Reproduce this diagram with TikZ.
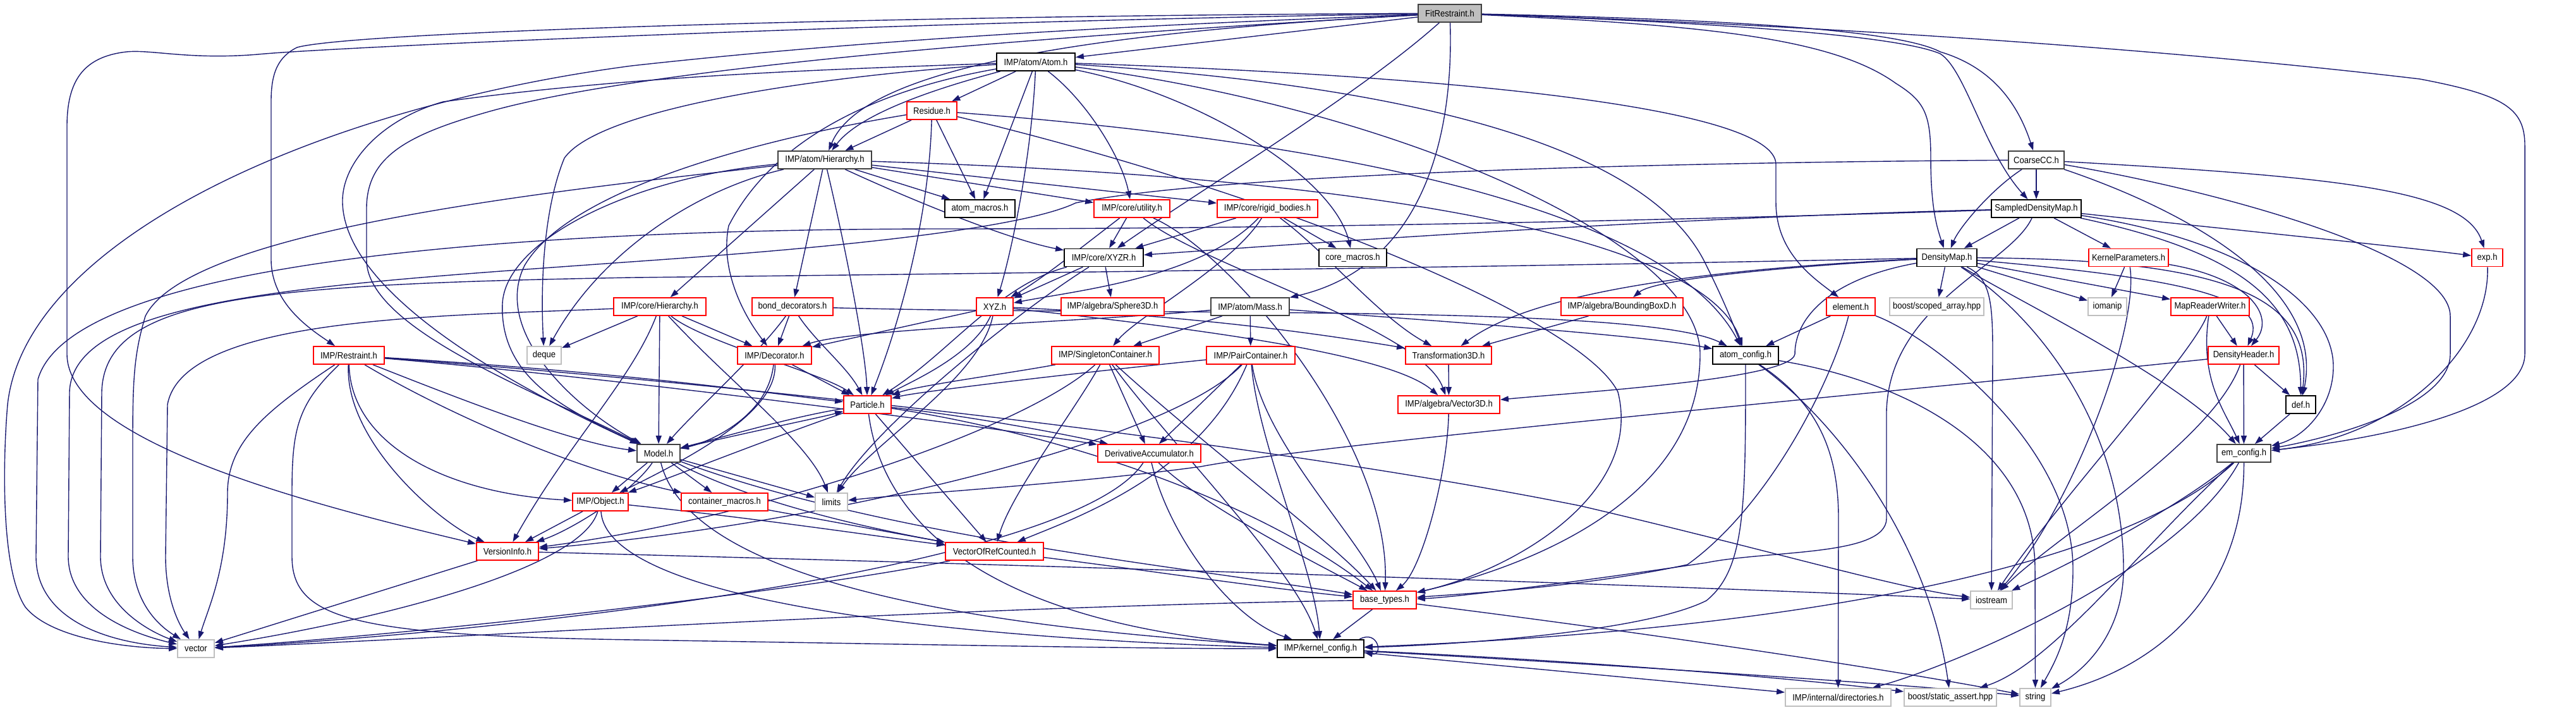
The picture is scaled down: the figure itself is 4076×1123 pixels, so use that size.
\documentclass[tikz,border=0pt]{standalone}
\usepackage{fontspec}
\newfontfamily\fnt{Liberation Sans}[FakeStretch=0.9]
\usetikzlibrary{arrows.meta}
\pgfdeclarelayer{edges}
\pgfsetlayers{edges,main}
\definecolor{navy}{HTML}{191970}
\definecolor{leafgray}{HTML}{BFBFBF}
\tikzset{
  box/.style={draw, line width=1.8pt, fill=white, inner sep=0pt, minimum height=28pt, font=\fnt\fontsize{14.5}{17}\selectfont},
  redbox/.style={box, draw=red},
  blkbox/.style={box, draw=black},
  dkbox/.style={box, draw=black!75},
  leafbox/.style={box, draw=leafgray},
  rootbox/.style={box, draw=black!75, fill=leafgray},
  lnk/.style={draw=navy, line width=1.4pt, -{Triangle[length=13pt,width=9pt]}},
}
\begin{document}
\begin{tikzpicture}[x=1pt,y=-1pt]
\useasboundingbox (0,0) rectangle (4076,1123);
% ---------- nodes ----------
\node[rootbox, minimum width=100pt] (FR) at (2294,21) {FitRestraint.h};
\node[blkbox, minimum width=124pt] (Atom) at (1639,98) {IMP/atom/Atom.h};
\node[redbox, minimum width=79pt] (Residue) at (1474.5,175) {Residue.h};
\node[dkbox, minimum width=148pt] (atomHier) at (1305,253) {IMP/atom/Hierarchy.h};
\node[dkbox, minimum width=88pt] (CoarseCC) at (3222,253) {CoarseCC.h};
\node[blkbox, minimum width=111pt] (atommacros) at (1550.5,330) {atom\_macros.h};
\node[redbox, minimum width=120pt] (utility) at (1791,330) {IMP/core/utility.h};
\node[redbox, minimum width=159pt] (rigid) at (2005.5,330) {IMP/core/rigid\_bodies.h};
\node[blkbox, minimum width=142pt] (SampledDM) at (3222,330) {SampledDensityMap.h};
\node[blkbox, minimum width=125pt] (XYZR) at (1746.5,407.5) {IMP/core/XYZR.h};
\node[blkbox, minimum width=107pt] (coremacros) at (2140.5,407.5) {core\_macros.h};
\node[blkbox, minimum width=95pt] (DensityMap) at (3080.5,407.5) {DensityMap.h};
\node[redbox, minimum width=126pt] (Kernel) at (3368,407.5) {KernelParameters.h};
\node[redbox, minimum width=49pt] (exp) at (3935.5,407.5) {exp.h};
\node[redbox, minimum width=146pt] (coreHier) at (1044,485) {IMP/core/Hierarchy.h};
\node[redbox, minimum width=128pt] (bond) at (1254,485) {bond\_decorators.h};
\node[redbox, minimum width=58pt] (XYZ) at (1574,485) {XYZ.h};
\node[redbox, minimum width=163pt] (Sphere) at (1760.5,485) {IMP/algebra/Sphere3D.h};
\node[dkbox, minimum width=124pt] (Mass) at (1978,485) {IMP/atom/Mass.h};
\node[redbox, minimum width=193pt] (BBox) at (2566.5,485) {IMP/algebra/BoundingBoxD.h};
\node[redbox, minimum width=77pt] (element) at (2928.5,485) {element.h};
\node[leafbox, minimum width=149pt] (scoped) at (3064.5,485) {boost/scoped\_array.hpp};
\node[leafbox, minimum width=61pt] (iomanip) at (3334.5,485) {iomanip};
\node[redbox, minimum width=124pt] (MapRW) at (3497,485) {MapReaderWriter.h};
\node[redbox, minimum width=112pt] (Restraint) at (552,562) {IMP/Restraint.h};
\node[leafbox, minimum width=54pt] (deque) at (861,562) {deque};
\node[redbox, minimum width=117pt] (Decorator) at (1225.5,562) {IMP/Decorator.h};
\node[redbox, minimum width=170pt] (Singleton) at (1749,562) {IMP/SingletonContainer.h};
\node[redbox, minimum width=140pt] (PairC) at (1979,562) {IMP/PairContainer.h};
\node[redbox, minimum width=136pt] (Trans) at (2292,562) {Transformation3D.h};
\node[blkbox, minimum width=104pt] (atomconfig) at (2762,562) {atom\_config.h};
\node[redbox, minimum width=112pt] (DHeader) at (3550,562) {DensityHeader.h};
\node[redbox, minimum width=75pt] (Particle) at (1372.5,640) {Particle.h};
\node[redbox, minimum width=161pt] (Vector3D) at (2292.5,640) {IMP/algebra/Vector3D.h};
\node[blkbox, minimum width=47pt] (def) at (3640.5,640) {def.h};
\node[dkbox, minimum width=68pt] (Model) at (1042,717) {Model.h};
\node[redbox, minimum width=163pt] (DerivAcc) at (1818.5,717) {DerivativeAccumulator.h};
\node[dkbox, minimum width=85pt] (emconfig) at (3550.5,717) {em\_config.h};
\node[redbox, minimum width=88pt] (Object) at (950,794) {IMP/Object.h};
\node[redbox, minimum width=137pt] (contmacros) at (1146.5,794) {container\_macros.h};
\node[leafbox, minimum width=51pt] (limits) at (1315.5,794) {limits};
\node[redbox, minimum width=98pt] (VersionInfo) at (803,872) {VersionInfo.h};
\node[redbox, minimum width=155pt] (VoRC) at (1573.5,872) {VectorOfRefCounted.h};
\node[redbox, minimum width=100pt] (basetypes) at (2191,949) {base\_types.h};
\node[leafbox, minimum width=66pt] (iostream) at (3151,949) {iostream};
\node[leafbox, minimum width=58pt] (vector) at (310,1026) {vector};
\node[blkbox, minimum width=137pt] (kconfig) at (2089.5,1026) {IMP/kernel\_config.h};
\node[leafbox, minimum width=167pt] (directories) at (2908.5,1103) {IMP/internal/directories.h};
\node[leafbox, minimum width=146pt] (staticassert) at (3086,1103) {boost/static\_assert.hpp};
\node[leafbox, minimum width=49pt] (string) at (3220.5,1103) {string};
% ---------- edges ----------
\begin{pgfonlayer}{edges}
\fill[white] (0,0) rectangle (4076,1123);
% FitRestraint.h
\draw[lnk] (FR) -- (Atom);
\draw[lnk] (FR) .. controls (1650,55) and (1360,120) .. (atomHier);
\draw[lnk] (FR) .. controls (1400,25) and (560,50) .. (470,75) .. controls (440,90) and (429,115) .. (429,160) -- (429,410) .. controls (429,480) and (490,520) .. (Restraint);
\draw[lnk] (FR) .. controls (1400,35) and (520,75) .. (408,86) .. controls (300,95) and (240,78) .. (200,82) .. controls (130,90) and (106,130) .. (106,200) -- (106,560) .. controls (106,700) and (500,800) .. (VersionInfo);
\draw[lnk] (FR) .. controls (1800,40) and (1400,60) .. (1000,104) .. controls (500,170) and (40,380) .. (12,640) .. controls (5,720) and (0,900) .. (40,960) .. controls (80,1010) and (200,1025) .. (vector);
\draw[lnk] (FR) .. controls (1600,60) and (1000,110) .. (765,179) .. controls (640,215) and (580,250) .. (580,330) -- (580,411) .. controls (580,520) and (850,620) .. (Model);
\draw[lnk] (FR) .. controls (2150,150) and (1900,300) .. (XYZR);
\draw[lnk] (FR) .. controls (2300,200) and (2260,420) .. (Mass);
\draw[lnk] (FR) .. controls (2700,30) and (3000,45) .. (3070,82) .. controls (3130,100) and (3185,140) .. (CoarseCC);
\draw[lnk] (FR) .. controls (2700,35) and (3000,55) .. (3070,85) .. controls (3110,110) and (3140,240) .. (SampledDM);
\draw[lnk] (FR) .. controls (2700,40) and (2900,60) .. (3000,132) .. controls (3045,160) and (3055,180) .. (3055,250) .. controls (3055,330) and (3065,360) .. (DensityMap);
\draw[lnk] (FR) .. controls (2900,40) and (3450,80) .. (3829,125) .. controls (3960,150) and (3995,170) .. (3995,230) -- (3995,560) .. controls (3995,640) and (3800,690) .. (emconfig);
% Atom.h
\draw[lnk] (Atom) -- (Residue);
\draw[lnk] (Atom) .. controls (1480,140) and (1360,180) .. (atomHier);
\draw[lnk] (Atom) -- (atommacros);
\draw[lnk] (Atom) .. controls (1632,250) and (1600,400) .. (XYZ);
\draw[lnk] (Atom) .. controls (1720,160) and (1775,250) .. (utility);
\draw[lnk] (Atom) .. controls (1900,150) and (2110,280) .. (coremacros);
\draw[lnk] (Atom) .. controls (2300,120) and (2810,170) .. (2810,260) -- (2810,320) .. controls (2810,400) and (2870,440) .. (element);
\draw[lnk] (Atom) .. controls (2300,140) and (2620,250) .. (2700,420) .. controls (2730,480) and (2745,520) .. (atomconfig);
\draw[lnk] (Atom) .. controls (2200,170) and (2690,380) .. (2690,560) .. controls (2690,800) and (2400,900) .. (basetypes);
\draw[lnk] (Atom) .. controls (1300,110) and (1000,120) .. (701,161) .. controls (600,190) and (540,260) .. (542,321) .. controls (545,430) and (700,560) .. (Model);
\draw[lnk] (Atom) .. controls (1300,120) and (950,170) .. (893,250) .. controls (860,330) and (855,450) .. (deque);
\draw[lnk] (Atom) .. controls (1383,143) and (1223,221) .. (1153,357) .. controls (1140,420) and (1170,490) .. (Decorator);
% Residue.h
\draw[lnk] (Residue) -- (atomHier);
\draw[lnk] (Residue) -- (atommacros);
\draw[lnk] (Residue) .. controls (1470,350) and (1420,520) .. (Particle);
\draw[lnk] (Residue) .. controls (2200,230) and (2650,350) .. (atomconfig);
\draw[lnk] (Residue) .. controls (2000,300) and (2500,500) .. (2560,620) .. controls (2600,780) and (2400,900) .. (basetypes);
\draw[lnk] (Residue) .. controls (1200,220) and (900,300) .. (830,420) .. controls (780,520) and (900,640) .. (Model);
% atom/Hierarchy.h
\draw[lnk] (atomHier) -- (coreHier);
\draw[lnk] (atomHier) -- (bond);
\draw[lnk] (atomHier) .. controls (1340,400) and (1370,560) .. (Particle);
\draw[lnk] (atomHier) .. controls (1450,320) and (1600,380) .. (XYZR);
\draw[lnk] (atomHier) -- (atommacros);
\draw[lnk] (atomHier) -- (utility);
\draw[lnk] (atomHier) -- (rigid);
\draw[lnk] (atomHier) .. controls (2200,280) and (2700,380) .. (atomconfig);
\draw[lnk] (atomHier) .. controls (1000,280) and (800,380) .. (795,480) .. controls (790,600) and (900,650) .. (Model);
\draw[lnk] (atomHier) .. controls (1100,300) and (950,400) .. (deque);
\draw[lnk] (atomHier) .. controls (900,300) and (300,360) .. (230,500) .. controls (212,560) and (210,600) .. (210,700) -- (210,880) .. controls (210,960) and (260,995) .. (vector);
% core/Hierarchy.h
\draw[lnk] (coreHier) -- (Decorator);
\draw[lnk] (coreHier) -- (Model);
\draw[lnk] (coreHier) .. controls (1150,600) and (1280,700) .. (limits);
\draw[lnk] (coreHier) .. controls (1110,540) and (1300,590) .. (Particle);
\draw[lnk] (coreHier) -- (deque);
\draw[lnk] (coreHier) .. controls (700,500) and (290,500) .. (265,640) -- (262,880) .. controls (262,950) and (285,990) .. (vector);
\draw[lnk] (coreHier) .. controls (1000,600) and (900,700) .. (VersionInfo);
% bond_decorators.h
\draw[lnk] (bond) -- (Decorator);
\draw[lnk] (bond) .. controls (1290,540) and (1340,580) .. (Particle);
\draw[lnk] (bond) .. controls (1200,560) and (1100,650) .. (Model);
\draw[lnk] (bond) .. controls (1800,500) and (2600,480) .. (atomconfig);
% XYZ.h
\draw[lnk] (XYZ) -- (Decorator);
\draw[lnk] (XYZ) .. controls (1550,600) and (1380,700) .. (limits);
\draw[lnk] (XYZ) .. controls (1900,520) and (2200,560) .. (Vector3D);
\draw[lnk] (XYZ) .. controls (1900,500) and (2100,530) .. (Trans);
\draw[lnk] (XYZ) .. controls (1540,560) and (1450,600) .. (Particle);
% XYZR.h
\draw[lnk] (XYZR) -- (XYZ);
\draw[lnk] (XYZR) -- (Sphere);
\draw[lnk] (XYZR) .. controls (1600,500) and (1380,680) .. (limits);
\draw[lnk] (XYZR) .. controls (1580,450) and (1500,560) .. (Particle);
% utility.h
\draw[lnk] (utility) -- (XYZR);
\draw[lnk] (utility) .. controls (1700,400) and (1650,440) .. (XYZ);
\draw[lnk] (utility) .. controls (1900,420) and (2250,520) .. (Vector3D);
\draw[lnk] (utility) .. controls (1950,400) and (2200,700) .. (basetypes);
% rigid_bodies.h
\draw[lnk] (rigid) -- (XYZR);
\draw[lnk] (rigid) .. controls (1900,440) and (1700,460) .. (XYZ);
\draw[lnk] (rigid) .. controls (1950,420) and (1800,500) .. (Singleton);
\draw[lnk] (rigid) .. controls (2100,400) and (2180,500) .. (Trans);
\draw[lnk] (rigid) -- (coremacros);
% Mass.h
\draw[lnk] (Mass) -- (Singleton);
\draw[lnk] (Mass) -- (PairC);
\draw[lnk] (Mass) .. controls (1700,510) and (1350,520) .. (Decorator);
\draw[lnk] (Mass) .. controls (2300,510) and (2600,530) .. (atomconfig);
% CoarseCC.h
\draw[lnk] (CoarseCC) -- (SampledDM);
\draw[lnk] (CoarseCC) .. controls (3150,300) and (3100,360) .. (DensityMap);
\draw[lnk] (CoarseCC) .. controls (3700,280) and (3900,300) .. (exp);
\draw[lnk] (CoarseCC) .. controls (3500,300) and (3877,400) .. (3877,500) -- (3877,560) .. controls (3877,640) and (3700,690) .. (emconfig);
\draw[lnk] (CoarseCC) .. controls (3450,330) and (3680,450) .. (def);
\draw[lnk] (CoarseCC) .. controls (2500,258) and (1900,280) .. (1702,321) .. controls (1600,370) and (1200,400) .. (1000,414) .. controls (500,450) and (115,470) .. (110,620) -- (108,880) .. controls (108,960) and (200,1000) .. (vector);
% SampledDensityMap.h
\draw[lnk] (SampledDM) -- (DensityMap);
\draw[lnk] (SampledDM) -- (Kernel);
\draw[lnk] (SampledDM) .. controls (3500,360) and (3800,390) .. (exp);
\draw[lnk] (SampledDM) .. controls (3550,400) and (3640,480) .. (def);
\draw[lnk] (SampledDM) .. controls (3550,380) and (3692,480) .. (3692,580) .. controls (3692,640) and (3650,690) .. (emconfig);
\draw[lnk] (SampledDM) .. controls (2600,345) and (2000,390) .. (XYZR);
\draw[lnk] (SampledDM) .. controls (3180,420) and (2990,480) .. (2985,650) -- (2985,820) .. controls (2985,880) and (2800,870) .. (2700,890) .. controls (2500,920) and (2300,945) .. (basetypes);
\draw[lnk] (SampledDM) .. controls (2600,350) and (2000,362) .. (1500,362) .. controls (1000,362) and (120,390) .. (60,600) -- (57,880) .. controls (57,970) and (150,1015) .. (vector);
% DensityMap.h
\draw[lnk] (DensityMap) -- (scoped);
\draw[lnk] (DensityMap) -- (iomanip);
\draw[lnk] (DensityMap) -- (MapRW);
\draw[lnk] (DensityMap) .. controls (3450,440) and (3590,470) .. (DHeader);
\draw[lnk] (DensityMap) .. controls (3150,440) and (3153,480) .. (3153,560) -- (iostream);
\draw[lnk] (DensityMap) .. controls (3200,480) and (3450,600) .. (emconfig);
\draw[lnk] (DensityMap) .. controls (3550,410) and (3660,480) .. (def);
\draw[lnk] (DensityMap) .. controls (2850,420) and (2620,440) .. (BBox);
\draw[lnk] (DensityMap) .. controls (2600,430) and (2400,480) .. (Trans);
\draw[lnk] (DensityMap) .. controls (2900,440) and (2840,500) .. (2840,560) .. controls (2835,600) and (2500,620) .. (Vector3D);
\draw[lnk] (DensityMap) .. controls (3250,520) and (3360,700) .. (3360,900) .. controls (3360,1000) and (3300,1060) .. (string);
\draw[lnk] (DensityMap) .. controls (2500,420) and (1800,430) .. (1000,439) .. controls (400,450) and (165,470) .. (161,620) -- (159,880) .. controls (159,960) and (240,1000) .. (vector);
% KernelParameters.h
\draw[lnk] (Kernel) -- (iomanip);
\draw[lnk] (Kernel) .. controls (3385,520) and (3280,800) .. (iostream);
\draw[lnk] (Kernel) .. controls (3560,440) and (3600,500) .. (DHeader);
% MapReaderWriter.h
\draw[lnk] (MapRW) -- (DHeader);
\draw[lnk] (MapRW) .. controls (3480,600) and (3520,650) .. (emconfig);
\draw[lnk] (MapRW) .. controls (3470,560) and (3250,800) .. (iostream);
% DensityHeader.h
\draw[lnk] (DHeader) -- (def);
\draw[lnk] (DHeader) -- (emconfig);
\draw[lnk] (DHeader) .. controls (3500,700) and (3250,850) .. (iostream);
\draw[lnk] (DHeader) .. controls (3000,620) and (2100,700) .. (1900,738) .. controls (1700,765) and (1450,780) .. (limits);
% def.h, exp.h
\draw[lnk] (def) -- (emconfig);
\draw[lnk] (exp) .. controls (3940,550) and (3800,690) .. (emconfig);
% em_config.h
\draw[lnk] (emconfig) .. controls (3450,800) and (3300,880) .. (iostream);
\draw[lnk] (emconfig) .. controls (3400,850) and (3250,1050) .. (staticassert);
\draw[lnk] (emconfig) .. controls (3551,950) and (3400,1060) .. (string);
\draw[lnk] (emconfig) .. controls (3400,860) and (3000,990) .. (kconfig);
\draw[lnk] (emconfig) .. controls (3450,900) and (3100,1050) .. (directories);
% atom_config.h
\draw[lnk] (atomconfig) .. controls (2762,800) and (2762,900) .. (2700,950) .. controls (2600,1000) and (2300,1020) .. (kconfig);
\draw[lnk] (atomconfig) .. controls (2880,640) and (2909,720) .. (2909,820) -- (directories);
\draw[lnk] (atomconfig) .. controls (2900,660) and (3050,850) .. (staticassert);
\draw[lnk] (atomconfig) .. controls (3000,600) and (3220,700) .. (3220,900) -- (string);
% element.h
\draw[lnk] (element) -- (atomconfig);
\draw[lnk] (element) .. controls (2900,600) and (2800,800) .. (2670,893) .. controls (2500,930) and (2300,940) .. (basetypes);
\draw[lnk] (element) .. controls (3050,530) and (3280,700) .. (3280,900) .. controls (3280,1000) and (3250,1050) .. (string);
% algebra
\draw[lnk] (Trans) -- (Vector3D);
\draw[lnk] (BBox) -- (Trans);
\draw[lnk] (Vector3D) .. controls (2290,750) and (2250,900) .. (basetypes);
% SingletonContainer.h
\draw[lnk] (Singleton) .. controls (1600,590) and (1450,610) .. (Particle);
\draw[lnk] (Singleton) -- (DerivAcc);
\draw[lnk] (Singleton) .. controls (1700,650) and (1600,780) .. (VoRC);
\draw[lnk] (Singleton) .. controls (1620,680) and (1200,820) .. (VersionInfo);
\draw[lnk] (Singleton) .. controls (1900,700) and (2100,850) .. (basetypes);
\draw[lnk] (Singleton) .. controls (1850,700) and (2050,900) .. (kconfig);
% PairContainer.h
\draw[lnk] (PairC) .. controls (1700,590) and (1450,620) .. (Particle);
\draw[lnk] (PairC) -- (DerivAcc);
\draw[lnk] (PairC) .. controls (1900,750) and (1700,820) .. (VoRC);
\draw[lnk] (PairC) .. controls (1850,700) and (1300,830) .. (VersionInfo);
\draw[lnk] (PairC) .. controls (2000,700) and (2150,850) .. (basetypes);
\draw[lnk] (PairC) .. controls (1990,700) and (2080,900) .. (kconfig);
% Decorator.h
\draw[lnk] (Decorator) -- (Particle);
\draw[lnk] (Decorator) .. controls (1215,660) and (1120,700) .. (Model);
\draw[lnk] (Decorator) .. controls (1230,650) and (1100,720) .. (Object);
% Restraint.h
\draw[lnk] (Restraint) .. controls (1000,590) and (1200,620) .. (Particle);
\draw[lnk] (Restraint) .. controls (700,620) and (900,700) .. (Model);
\draw[lnk] (Restraint) .. controls (1000,600) and (1600,680) .. (DerivAcc);
\draw[lnk] (Restraint) .. controls (545,700) and (700,830) .. (VersionInfo);
\draw[lnk] (Restraint) .. controls (555,700) and (700,780) .. (Object);
\draw[lnk] (Restraint) .. controls (700,650) and (900,740) .. (contmacros);
\draw[lnk] (Restraint) .. controls (420,650) and (360,700) .. (360,780) .. controls (360,900) and (330,960) .. (vector);
\draw[lnk] (Restraint) .. controls (470,640) and (462,680) .. (462,780) -- (462,880) .. controls (462,980) and (560,1005) .. (1000,1012) .. controls (1500,1020) and (1800,1026) .. (kconfig);
\draw[lnk] (Restraint) .. controls (1200,610) and (2000,700) .. (2500,800) .. controls (2800,870) and (3000,930) .. (iostream);
% Model.h
\draw[lnk] (Model) .. controls (1200,680) and (1300,660) .. (Particle);
\draw[lnk] (Model) -- (Object);
\draw[lnk] (Model) .. controls (1000,780) and (900,840) .. (VersionInfo);
\draw[lnk] (Model) -- (contmacros);
\draw[lnk] (Model) -- (limits);
\draw[lnk] (Model) .. controls (1100,950) and (1700,1000) .. (kconfig);
\draw[lnk] (Model) .. controls (1400,850) and (1900,900) .. (basetypes);
\draw[lnk] (Model) .. controls (1200,800) and (1400,840) .. (VoRC);
% Particle.h
\draw[lnk] (Particle) .. controls (1250,660) and (1150,690) .. (Model);
\draw[lnk] (Particle) .. controls (1200,700) and (1050,760) .. (Object);
\draw[lnk] (Particle) .. controls (1400,850) and (1600,990) .. (kconfig);
\draw[lnk] (Particle) -- (VoRC);
\draw[lnk] (Particle) .. controls (1550,660) and (1700,690) .. (DerivAcc);
\draw[lnk] (Particle) .. controls (1700,690) and (2000,800) .. (basetypes);
% Object.h
\draw[lnk] (Object) -- (VersionInfo);
\draw[lnk] (Object) .. controls (920,900) and (600,980) .. (vector);
\draw[lnk] (Object) .. controls (960,950) and (1500,1010) .. (kconfig);
\draw[lnk] (Object) .. controls (1200,820) and (1400,850) .. (VoRC);
% others
\draw[lnk] (contmacros) -- (VoRC);
\draw[lnk] (VersionInfo) -- (vector);
\draw[lnk] (VersionInfo) .. controls (1500,890) and (2500,920) .. (iostream);
\draw[lnk] (VoRC) .. controls (1300,930) and (700,1000) .. (vector);
\draw[lnk] (VoRC) .. controls (1800,900) and (2000,930) .. (basetypes);
\draw[lnk] (DerivAcc) .. controls (1900,800) and (2100,900) .. (basetypes);
\draw[lnk] (DerivAcc) .. controls (1850,850) and (1950,980) .. (kconfig);
\draw[lnk] (DerivAcc) .. controls (1700,900) and (800,1000) .. (vector);
\draw[lnk] (basetypes) -- (kconfig);
\draw[lnk] (basetypes) .. controls (1500,960) and (700,1010) .. (vector);
\draw[lnk] (basetypes) .. controls (2600,1000) and (3000,1060) .. (string);
\draw[lnk] (kconfig) -- (directories);
\draw[lnk] (kconfig) .. controls (2600,1050) and (2900,1080) .. (staticassert);
\draw[lnk] (kconfig) .. controls (2700,1060) and (3100,1090) .. (string);
\draw[lnk] ([xshift=-8pt]kconfig.north east) .. controls +(30,-16) and +(30,6) .. ([yshift=-6pt]kconfig.east);
\end{pgfonlayer}
\end{tikzpicture}
\end{document}
